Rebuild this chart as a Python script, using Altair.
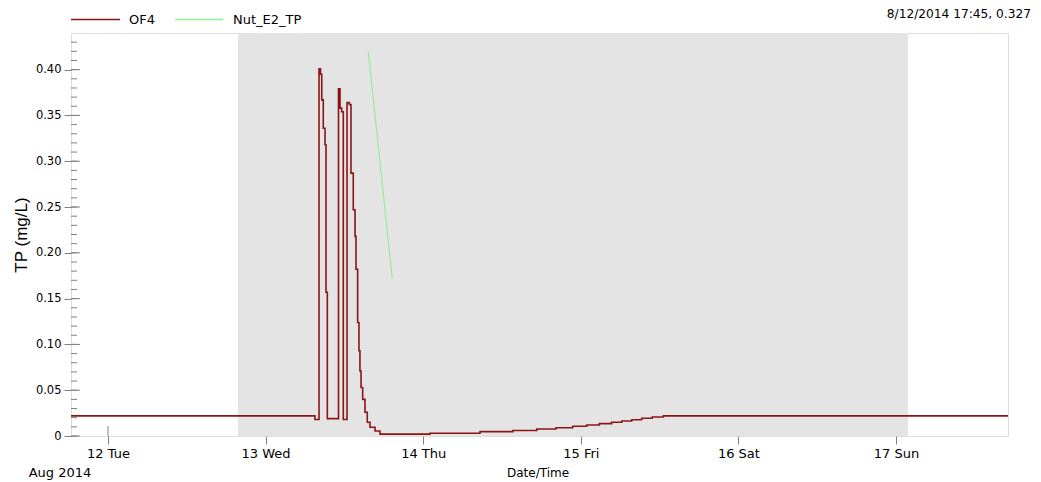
import altair as alt
import pandas as pd

# ---- data ----
of4_time = [
    "2014-08-11T18:22", "2014-08-13T07:31", "2014-08-13T08:08", "2014-08-13T08:22",
    "2014-08-13T08:33", "2014-08-13T08:47", "2014-08-13T09:03", "2014-08-13T09:12",
    "2014-08-13T09:24", "2014-08-13T11:06", "2014-08-13T11:20", "2014-08-13T11:35",
    "2014-08-13T11:50", "2014-08-13T12:24", "2014-08-13T12:45", "2014-08-13T13:00",
    "2014-08-13T13:21", "2014-08-13T13:37", "2014-08-13T13:46", "2014-08-13T14:01",
    "2014-08-13T14:13", "2014-08-13T14:22", "2014-08-13T14:32", "2014-08-13T14:47",
    "2014-08-13T15:08", "2014-08-13T15:29", "2014-08-13T15:54", "2014-08-13T16:40",
    "2014-08-13T17:25", "2014-08-14T01:02", "2014-08-14T08:39", "2014-08-14T13:40",
    "2014-08-14T17:17", "2014-08-14T20:13", "2014-08-14T22:46", "2014-08-15T00:54",
    "2014-08-15T02:49", "2014-08-15T04:42", "2014-08-15T06:14", "2014-08-15T07:45",
    "2014-08-15T09:16", "2014-08-15T10:53", "2014-08-15T12:34", "2014-08-17T17:03",
]
of4_tp = [
    0.022, 0.018, 0.401, 0.395,
    0.367, 0.336, 0.318, 0.157,
    0.019, 0.379, 0.358, 0.354,
    0.018, 0.364, 0.362, 0.287,
    0.247, 0.218, 0.182, 0.124,
    0.093, 0.071, 0.053, 0.040,
    0.026, 0.015, 0.0095, 0.0055,
    0.002, 0.003, 0.0048, 0.006,
    0.0076, 0.009, 0.0106, 0.012,
    0.0135, 0.015, 0.0163, 0.0178,
    0.0193, 0.0207, 0.022, 0.022,
]
e2_time = ["2014-08-13T15:38", "2014-08-13T19:17"]
e2_tp = [0.42, 0.172]

day_ticks = [12, 13, 14, 15, 16, 17]
y_major = [0, 0.05, 0.10, 0.15, 0.20, 0.25, 0.30, 0.35, 0.40]
y_minor = [i / 100 for i in range(0, 44)]
shade_start = "2014-08-12T19:48"
shade_end = "2014-08-17T01:49"

W, H = 937, 403
FONT = "DejaVu Sans"
RED = "#8b1414"
GREEN = "#98ee98"
GREY = "#a0a0a0"

df_of4 = pd.DataFrame({"t": of4_time, "tp": of4_tp, "s": "OF4"})
df_e2 = pd.DataFrame({"t": e2_time, "tp": e2_tp, "s": "Nut_E2_TP"})
df_days = pd.DataFrame({"t": [f"2014-08-{d:02d}T00:00" for d in day_ticks]})
df_major = pd.DataFrame({"v": y_major})
df_minor = pd.DataFrame({"v": y_minor})
df_shade = pd.DataFrame({"a": [shade_start], "b": [shade_end]})
one = pd.DataFrame({"k": [0]})

xscale = alt.Scale(
    domain=[alt.DateTime(year=2014, month=8, date=11, hours=18, minutes=22),
            alt.DateTime(year=2014, month=8, date=17, hours=17, minutes=3)],
    nice=False,
)
yscale = alt.Scale(domain=[0, 0.44], nice=False, zero=False)

xaxis = alt.Axis(
    values=[alt.DateTime(year=2014, month=8, date=d) for d in day_ticks],
    labelExpr="timeFormat(datum.value, '%-d %a')",
    title=None, grid=False, domain=False,
    tickSize=8, tickColor="#808080", tickWidth=1,
    labelFont=FONT, labelFontSize=13, labelColor="#000000", labelPadding=3,
)
yaxis = alt.Axis(
    values=y_major,
    labelExpr="datum.value == 0 ? '0' : format(datum.value, '.2f')",
    title="TP (mg/L)", grid=False, domain=False,
    tickSize=7, tickColor="#808080", tickWidth=1,
    labelFont=FONT, labelFontSize=11.5, labelColor="#000000", labelPadding=3,
    titleFont="Liberation Sans", titleFontSize=17, titleFontWeight="normal",
    titleColor="#000000", titleAngle=-90, titleX=-49.5, titleY=201.5,
    titleAlign="center", titleBaseline="middle",
)

base_x = alt.X("t:T", scale=xscale, axis=xaxis)

inner_xticks = alt.Chart(df_days).mark_rule(color="#808080", strokeWidth=1).encode(
    x=alt.X("t:T", scale=xscale, axis=xaxis),
    y=alt.value(H), y2=alt.value(H - 10),
)

shade = alt.Chart(df_shade).mark_rect(color="#e4e4e4").encode(
    x=alt.X("a:T", scale=xscale, axis=xaxis), x2="b:T",
    y=alt.value(0), y2=alt.value(H),
)

line_of4 = alt.Chart(df_of4).mark_line(
    color=RED, strokeWidth=1.6, interpolate="step-after", clip=True
).encode(
    x=base_x,
    y=alt.Y("tp:Q", scale=yscale, axis=yaxis),
)

line_e2 = alt.Chart(df_e2).mark_line(color=GREEN, strokeWidth=1.3, clip=True).encode(
    x=base_x,
    y=alt.Y("tp:Q", scale=yscale, axis=yaxis),
)

ymaj_in = alt.Chart(df_major).mark_rule(color="#808080", strokeWidth=1).encode(
    y=alt.Y("v:Q", scale=yscale, axis=yaxis), x=alt.value(0), x2=alt.value(9),
)
ymin_in = alt.Chart(df_minor).mark_rule(color="#808080", strokeWidth=1).encode(
    y=alt.Y("v:Q", scale=yscale, axis=yaxis), x=alt.value(0), x2=alt.value(6),
)

leg_red = alt.Chart(one).mark_rule(color=RED, strokeWidth=1.5).encode(
    x=alt.value(0), x2=alt.value(49), y=alt.value(-13.5))
leg_green = alt.Chart(one).mark_rule(color=GREEN, strokeWidth=1.5).encode(
    x=alt.value(104), x2=alt.value(152), y=alt.value(-13.5))
leg_t1 = alt.Chart(one).mark_text(
    text="OF4", font=FONT, fontSize=13, align="left", baseline="middle", color="#000000"
).encode(x=alt.value(58), y=alt.value(-13))
leg_t2 = alt.Chart(one).mark_text(
    text="Nut_E2_TP", font=FONT, fontSize=13, align="left", baseline="middle", color="#000000"
).encode(x=alt.value(162), y=alt.value(-13))

readout = alt.Chart(one).mark_text(
    text="8/12/2014 17:45, 0.327", font=FONT, fontSize=12.2, align="right",
    baseline="middle", color="#000000"
).encode(x=alt.value(960), y=alt.value(-19))

aug = alt.Chart(one).mark_text(
    text="Aug 2014", font=FONT, fontSize=13, align="center", baseline="middle", color="#000000"
).encode(x=alt.value(-11), y=alt.value(H + 37))
xtitle = alt.Chart(one).mark_text(
    text="Date/Time", font=FONT, fontSize=12, align="center", baseline="middle", color="#000000"
).encode(x=alt.value(467), y=alt.value(H + 37))

chart = alt.layer(
    inner_xticks, shade, ymin_in, ymaj_in, line_of4, line_e2,
    leg_red, leg_green, leg_t1, leg_t2, readout, aug, xtitle,
).resolve_scale(x="shared", y="shared").properties(
    width=W, height=H,
    padding={"left": 63, "top": 25, "right": 25, "bottom": 44},
    autosize=alt.AutoSizeParams(type="none"),
).configure_view(stroke=GREY, strokeWidth=1.5).configure(background="#ffffff")

chart.save("out.html", embed_options={"renderer": "svg", "actions": False})
